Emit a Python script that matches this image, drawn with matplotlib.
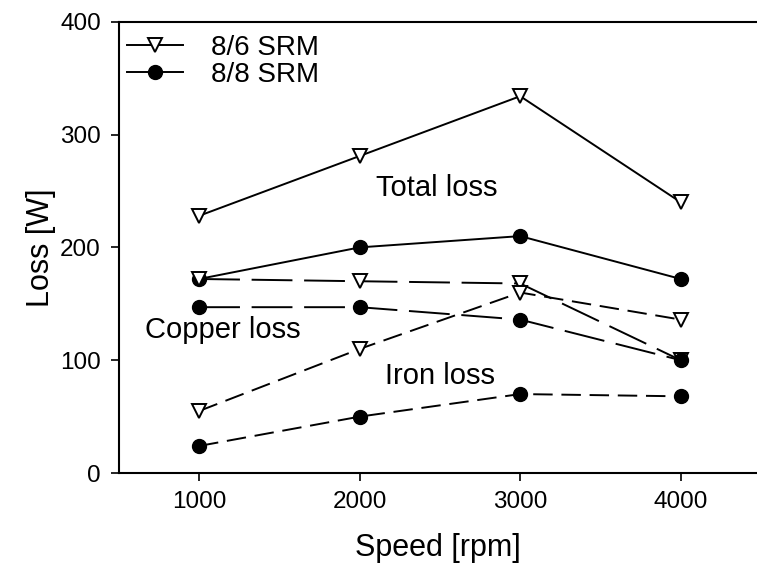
import matplotlib
matplotlib.use('Agg')
import matplotlib.pyplot as plt

plt.rcParams['font.family'] = ['Liberation Sans', 'DejaVu Sans']

speed = [1000, 2000, 3000, 4000]

total_86 = [228, 281, 334, 240]
total_88 = [172, 200, 210, 172]
copper_86 = [172, 170, 168, 100]
copper_88 = [147, 147, 136, 100]
iron_86 = [55, 110, 160, 136]
iron_88 = [24, 50, 70, 68]

lw = 1.4
copper_ls = (0, (21, 6))
iron_ls = (0, (10, 4.5))
tri = dict(marker='v', markersize=10, markerfacecolor='white', markeredgecolor='black', markeredgewidth=1.4)
dot = dict(marker='o', markersize=10, markerfacecolor='black', markeredgecolor='black')

fig = plt.figure(figsize=(7.57, 5.72), dpi=100)
ax = fig.add_axes([0.157, 0.173, 0.843, 0.789])

ax.plot(speed, total_86, color='k', lw=lw, label='8/6 SRM', **tri)
ax.plot(speed, total_88, color='k', lw=lw, label='8/8 SRM', **dot)
ax.plot(speed, copper_86, color='k', lw=lw, linestyle=copper_ls, **tri)
ax.plot(speed, copper_88, color='k', lw=lw, linestyle=copper_ls, **dot)
ax.plot(speed, iron_86, color='k', lw=lw, linestyle=iron_ls, **tri)
ax.plot(speed, iron_88, color='k', lw=lw, linestyle=iron_ls, **dot)

ax.text(2480, 253, 'Total loss', fontsize=21, ha='center', va='center')
ax.text(1150, 127, 'Copper loss', fontsize=21, ha='center', va='center')
ax.text(2500, 86, 'Iron loss', fontsize=21, ha='center', va='center')

ax.set_xlim(500, 4475)
ax.set_ylim(0, 400)
ax.set_xticks(speed)
ax.set_yticks([0, 100, 200, 300, 400])
ax.tick_params(direction='out', length=6, width=1.2, labelsize=17.5, pad=7)
ax.spines['right'].set_visible(False)
for s in ('left', 'bottom', 'top'):
    ax.spines[s].set_linewidth(1.5)

ax.set_xlabel('Speed [rpm]', fontsize=22, labelpad=14)
ax.set_ylabel('Loss [W]', fontsize=22, labelpad=3)

ax.legend(loc='upper left', frameon=False, fontsize=20, handlelength=2.0,
          handletextpad=1.0, labelspacing=0.05, borderaxespad=0.0,
          borderpad=0.3, bbox_to_anchor=(0.0, 0.99))

fig.savefig('out.png', dpi=100)
